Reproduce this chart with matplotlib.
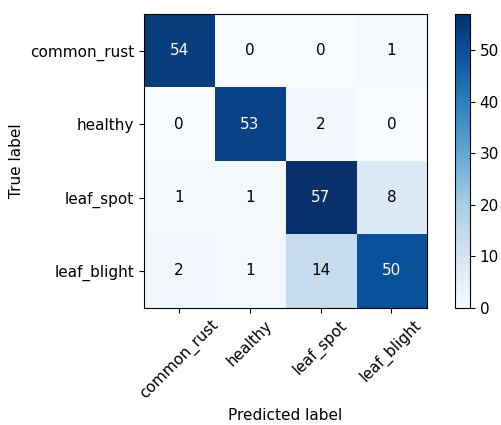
import numpy as np
import matplotlib
matplotlib.use("Agg")
import matplotlib.pyplot as plt

plt.rcParams["font.size"] = 11

classes = ["common_rust", "healthy", "leaf_spot", "leaf_blight"]
cm = np.array([[54, 0, 0, 1],
               [0, 53, 2, 0],
               [1, 1, 57, 8],
               [2, 1, 14, 50]])

fig = plt.figure(figsize=(5.01, 4.25), dpi=100)
ax = fig.add_axes([0.287, 0.276, 0.565, 0.691])
cax = fig.add_axes([0.908, 0.276, 0.030, 0.691])

im = ax.imshow(cm, interpolation="nearest", cmap=plt.cm.Blues, aspect="auto")
fig.colorbar(im, cax=cax)

ticks = np.arange(len(classes))
ax.set_xticks(ticks)
ax.set_xticklabels(classes, rotation=45)
ax.set_yticks(ticks)
ax.set_yticklabels(classes)

# write the counts, white on dark cells
thresh = cm.max() / 2.
for i in range(cm.shape[0]):
    for j in range(cm.shape[1]):
        ax.text(j, i, format(cm[i, j], "d"),
                ha="center", va="center",
                color="white" if cm[i, j] > thresh else "black")

ax.set_ylabel("True label")
ax.set_xlabel("Predicted label")

fig.savefig("out.png", dpi=100)
